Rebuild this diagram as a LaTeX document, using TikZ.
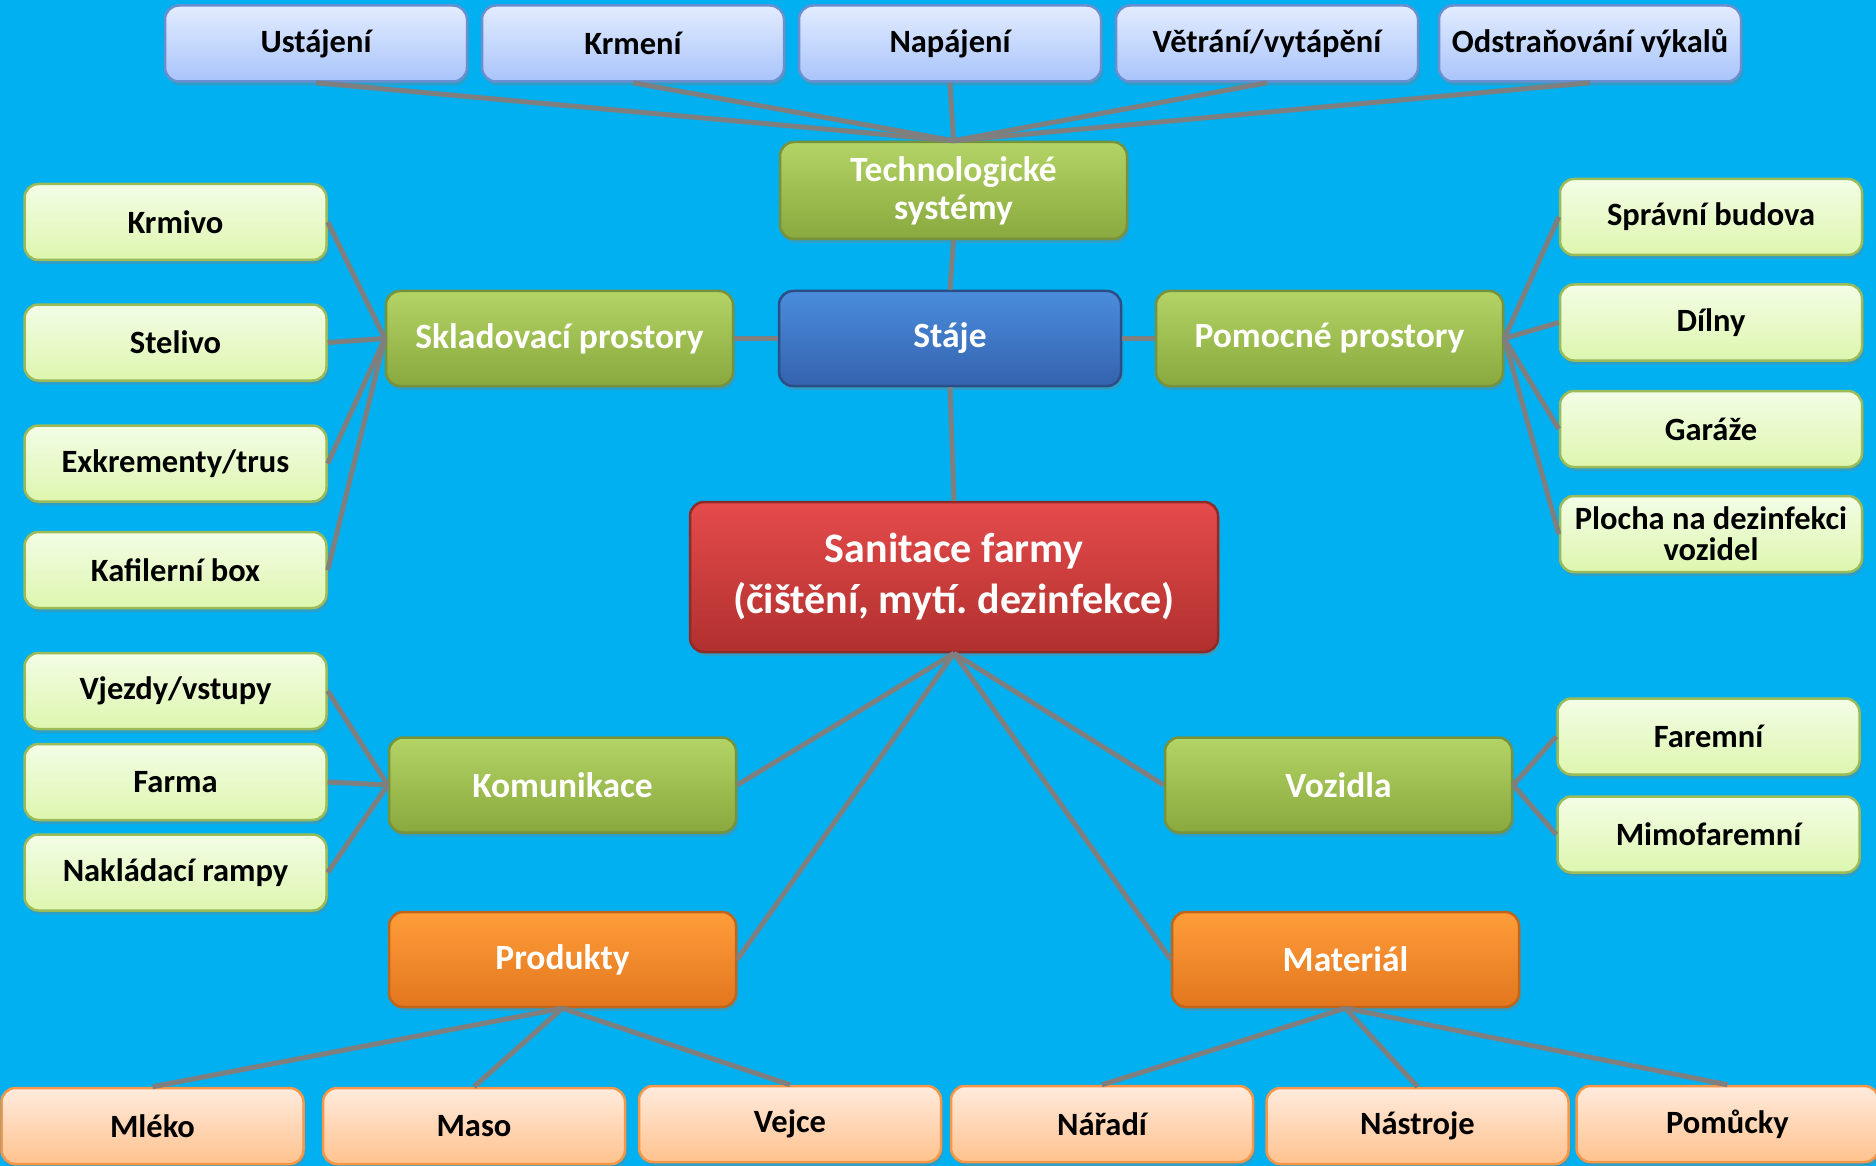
\documentclass[tikz,border=0pt]{standalone}
\usepackage{fontspec}
\setmainfont{Carlito}
\usetikzlibrary{shadows}
\frenchspacing

\definecolor{bgblue}{HTML}{00B0F0}
\definecolor{linkgray}{HTML}{7F7F7F}
\definecolor{paleblueT}{HTML}{E3ECFF}
\definecolor{paleblueB}{HTML}{A8C4FA}
\definecolor{paleblueL}{HTML}{6A8FD0}
\definecolor{greenT}{HTML}{B3D465}
\definecolor{greenB}{HTML}{89A83E}
\definecolor{greenL}{HTML}{76923C}
\definecolor{blueT}{HTML}{4A8DDC}
\definecolor{blueB}{HTML}{3462AE}
\definecolor{blueL}{HTML}{2B4E86}
\definecolor{redT}{HTML}{E54B4B}
\definecolor{redB}{HTML}{B0302E}
\definecolor{redL}{HTML}{8E2A28}
\definecolor{orangeT}{HTML}{FF9D3A}
\definecolor{orangeB}{HTML}{E2761E}
\definecolor{orangeL}{HTML}{C0651A}
\definecolor{palegreenT}{HTML}{F3FDE6}
\definecolor{palegreenB}{HTML}{DDF6AE}
\definecolor{palegreenL}{HTML}{9BBB59}
\definecolor{paleorangeT}{HTML}{FFEBDD}
\definecolor{paleorangeB}{HTML}{FFC28E}
\definecolor{paleorangeL}{HTML}{F79646}

\tikzset{
  box/.style={draw, rounded corners=14pt, line width=2.5pt, align=center, inner sep=0pt,
    drop shadow={opacity=0.35, shadow xshift=2pt, shadow yshift=-4pt}},
  leaf/.style={box, text=black, minimum width=302pt, minimum height=76pt,
    font=\bfseries\fontsize{32.5}{31}\selectfont},
  hub/.style={box, text=white, minimum width=347pt, minimum height=95pt,
    font=\bfseries\fontsize{35.5}{38}\selectfont},
  techleaf/.style={leaf, top color=paleblueT, bottom color=paleblueB, draw=paleblueL},
  greenleaf/.style={leaf, top color=palegreenT, bottom color=palegreenB, draw=palegreenL},
  orangeleaf/.style={leaf, top color=paleorangeT, bottom color=paleorangeB, draw=paleorangeL},
  greenhub/.style={hub, top color=greenT, bottom color=greenB, draw=greenL},
  orangehub/.style={hub, top color=orangeT, bottom color=orangeB, draw=orangeL},
  link/.style={draw=linkgray, line width=5pt}
}

\begin{document}
\begin{tikzpicture}[x=1pt, y=-1pt]
  \fill[bgblue] (0,0) rectangle (1876,1166);
  \useasboundingbox (0,0) rectangle (1876,1166);

  \node[techleaf] (ustajeni) at (316,43.5) {Ustájení};
  \node[techleaf] (krmeni) at (633,43.5) {Krmení};
  \node[techleaf] (napajeni) at (950,43.5) {Napájení};
  \node[techleaf] (vetrani) at (1267,43.5) {Větrání/vytápění};
  \node[techleaf] (vykaly) at (1590,43.5) {Odstraňování výkalů};

  \node[greenhub, minimum height=97pt] (tech) at (953.5,190.5) {Technologické\\systémy};
  \node[hub, top color=blueT, bottom color=blueB, draw=blueL, minimum width=342pt] (staje) at (950,338.5) {Stáje};
  \node[greenhub] (sklad) at (559.5,338.5) {Skladovací prostory};
  \node[greenhub] (pomoc) at (1329.5,338.5) {Pomocné prostory};

  \node[greenleaf] (krmivo) at (175.5,222) {Krmivo};
  \node[greenleaf] (stelivo) at (175.5,342.5) {Stelivo};
  \node[greenleaf] (trus) at (175.5,463.5) {Exkrementy/trus};
  \node[greenleaf] (kafiler) at (175.5,570) {Kafilerní box};

  \node[greenleaf] (budova) at (1711,217) {Správní budova};
  \node[greenleaf] (dilny) at (1711,322.5) {Dílny};
  \node[greenleaf] (garaze) at (1711,429) {Garáže};
  \node[greenleaf] (plocha) at (1711,534) {Plocha na dezinfekci\\vozidel};

  \node[box, text=white, top color=redT, bottom color=redB, draw=redL,
    minimum width=528pt, minimum height=150pt,
    font=\bfseries\fontsize{42}{51}\selectfont] (sanitace) at (954,577)
    {Sanitace farmy\\(čištění, mytí. dezinfekce)};

  \node[greenhub] (komun) at (562.5,785) {Komunikace};
  \node[greenleaf] (vjezdy) at (175.5,691) {Vjezdy/vstupy};
  \node[greenleaf] (farma) at (175.5,782) {Farma};
  \node[greenleaf] (rampy) at (175.5,872.5) {Nakládací rampy};

  \node[greenhub] (vozidla) at (1338.5,785) {Vozidla};
  \node[greenleaf] (faremni) at (1708.5,736.5) {Faremní};
  \node[greenleaf] (mimo) at (1708.5,834.5) {Mimofaremní};

  \node[orangehub] (produkty) at (562.5,959.5) {Produkty};
  \node[orangehub] (material) at (1345.5,959.5) {Materiál};

  \node[orangeleaf] (mleko) at (152.5,1126) {Mléko};
  \node[orangeleaf] (maso) at (474,1126) {Maso};
  \node[orangeleaf] (vejce) at (790,1124) {Vejce};
  \node[orangeleaf] (naradi) at (1102,1124) {Nářadí};
  \node[orangeleaf] (nastroje) at (1417.5,1126) {Nástroje};
  \node[orangeleaf] (pomucky) at (1727.5,1124) {Pomůcky};

  \foreach \t in {ustajeni,krmeni,napajeni,vetrani,vykaly}
    \draw[link] (\t.south) -- (tech.north);
  \draw[link] (tech.south) -- (staje.north);
  \draw[link] (sklad.east) -- (staje.west);
  \draw[link] (staje.east) -- (pomoc.west);
  \draw[link] (staje.south) -- (sanitace.north);
  \foreach \t in {krmivo,stelivo,trus,kafiler}
    \draw[link] (sklad.west) -- (\t.east);
  \foreach \t in {budova,dilny,garaze,plocha}
    \draw[link] (pomoc.east) -- (\t.west);
  \foreach \t in {komun,produkty}
    \draw[link] (sanitace.south) -- (\t.east);
  \foreach \t in {vozidla,material}
    \draw[link] (sanitace.south) -- (\t.west);
  \foreach \t in {vjezdy,farma,rampy}
    \draw[link] (komun.west) -- (\t.east);
  \foreach \t in {faremni,mimo}
    \draw[link] (vozidla.east) -- (\t.west);
  \foreach \t in {mleko,maso,vejce}
    \draw[link] (produkty.south) -- (\t.north);
  \foreach \t in {naradi,nastroje,pomucky}
    \draw[link] (material.south) -- (\t.north);
\end{tikzpicture}
\end{document}
